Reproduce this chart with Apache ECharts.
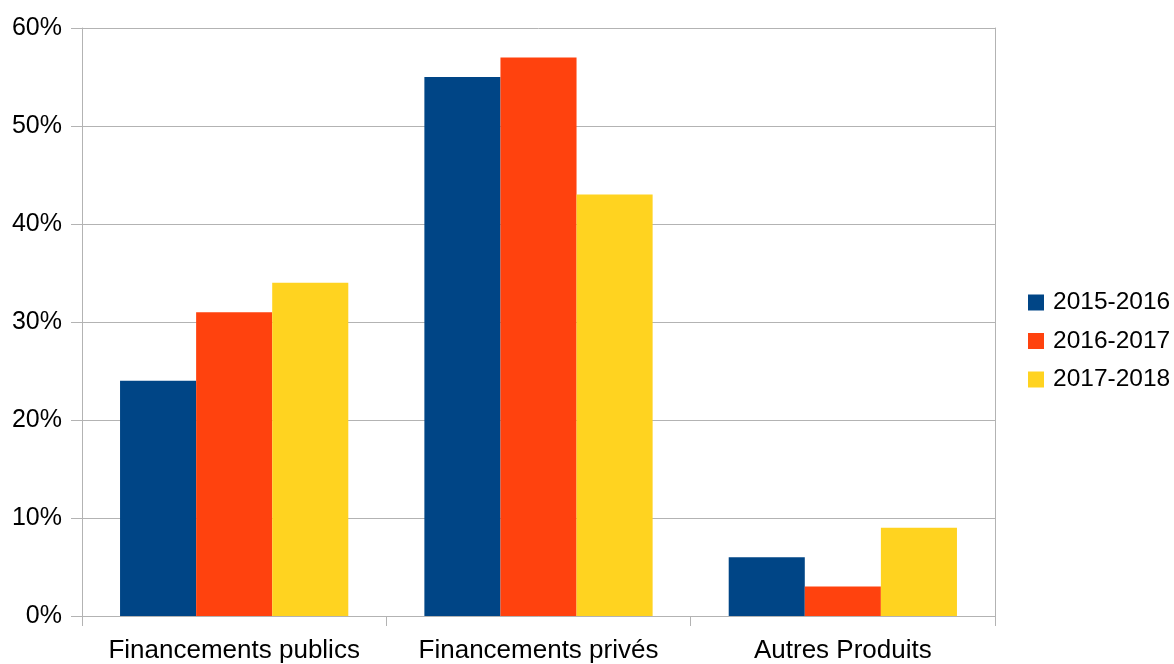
<!DOCTYPE html>
<html>
<head>
<meta charset="utf-8">
<style>
  html, body { margin: 0; padding: 0; background: #fff; }
  #chart { width: 1174px; height: 664px; }
</style>
<script src="https://cdn.jsdelivr.net/npm/echarts@6/dist/echarts.min.js"></script>
</head>
<body>
<div id="chart"></div>
<script>
// Share of resources by origin, per fiscal year (percent)
const categories = ['Financements publics', 'Financements privés', 'Autres Produits'];
const seriesNames = ['2015-2016', '2016-2017', '2017-2018'];
const values2015 = [24, 55, 6];
const values2016 = [31, 57, 3];
const values2017 = [34, 43, 9];
const colors = ['#004586', '#ff420e', '#ffd320'];

const seriesValues = [values2015, values2016, values2017];
const font = '"Liberation Sans", Arial, sans-serif';
const axisGray = '#b3b3b3';

const chart = echarts.init(document.getElementById('chart'), null, { renderer: 'canvas' });
chart.setOption({
  animation: false,
  backgroundColor: '#ffffff',
  textStyle: { fontFamily: font },
  color: colors,
  grid: { left: 82, right: 179, top: 28, bottom: 47, containLabel: false },
  legend: {
    orient: 'vertical',
    left: 1028,
    top: 290,
    padding: 0,
    itemWidth: 16,
    itemHeight: 16,
    itemGap: 13.5,
    icon: 'rect',
    textStyle: { fontFamily: font, fontSize: 24.5, color: '#000', padding: [0, 0, 0, 4] },
    data: seriesNames
  },
  xAxis: {
    type: 'category',
    data: categories,
    axisLine: { lineStyle: { color: axisGray, width: 1 } },
    axisTick: { show: true, alignWithLabel: false, interval: 0, length: 10, lineStyle: { color: axisGray } },
    axisLabel: { color: '#000', fontSize: 26, fontFamily: font, margin: 22, interval: 0 },
    splitLine: { show: false }
  },
  yAxis: [{
    type: 'value',
    min: 0,
    max: 60,
    interval: 10,
    axisLine: { show: true, lineStyle: { color: axisGray, width: 1 } },
    axisTick: { show: true, length: 11, lineStyle: { color: axisGray } },
    axisLabel: { color: '#000', fontSize: 25, fontFamily: font, margin: 20, formatter: '{value}%' },
    splitLine: { show: true, lineStyle: { color: axisGray, width: 1 } }
  }, {
    type: 'value',
    position: 'right',
    min: 0,
    max: 60,
    interval: 10,
    axisLine: { show: true, lineStyle: { color: axisGray, width: 1 } },
    axisTick: { show: false },
    axisLabel: { show: false },
    splitLine: { show: false }
  }],
  series: seriesNames.map((name, i) => ({
    name: name,
    type: 'bar',
    data: seriesValues[i],
    barGap: '0%',
    barCategoryGap: '25%',
    itemStyle: { color: colors[i] }
  }))
});
</script>
</body>
</html>
